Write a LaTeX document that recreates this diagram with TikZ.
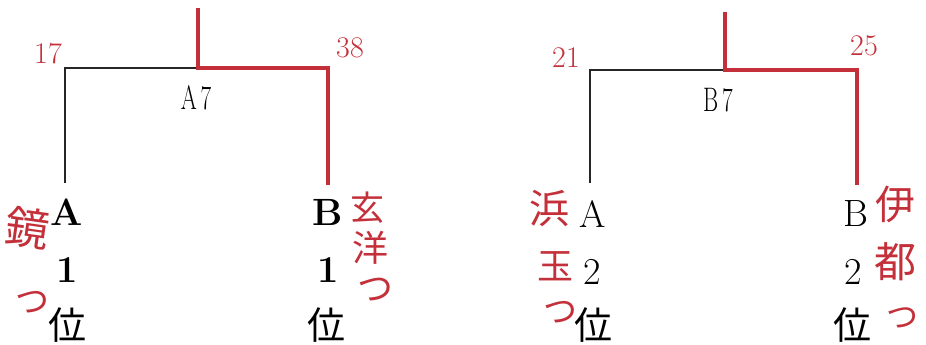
\documentclass[tikz,border=0pt]{standalone}
\usepackage{fontspec}
\newfontfamily\cjk{Noto Sans CJK JP}
\definecolor{pen}{RGB}{196,48,58}
\begin{document}
\begin{tikzpicture}[x=1pt,y=-1pt,
  wire/.style={line width=1.6pt, black!85},
  win/.style={line width=4.5pt, pen, line cap=rect},
  boldlab/.style={font=\fontsize{38}{38}\selectfont\bfseries, inner sep=0},
  plainlab/.style={font=\fontsize{38}{38}\selectfont, inner sep=0},
  ilab/.style={font=\cjk\fontsize{38}{38}\selectfont, inner sep=0},
  gamelab/.style={font=\fontsize{34}{34}\selectfont, inner sep=0, xscale=0.68, transform shape},
  hand/.style={text=pen, inner sep=0},
  handnum/.style={font=\fontsize{30}{30}\selectfont, text=pen, inner sep=0},
]
\useasboundingbox (0,0) rectangle (926,345);

% ---------- left bracket ----------
\coordinate (la) at (65,183);
\coordinate (lat) at (65,68);
\coordinate (lm) at (198,68);
\coordinate (ltop) at (198,10);
\coordinate (lbt) at (328,68);
\coordinate (lb) at (328,183);
\draw[wire] (la) -- (lat) -- (lm);
\draw[win] (ltop) -- (lm) -- (lbt) -- (lb);
\node[gamelab] (a7) at (196,98) {A\,7};

\node[boldlab] (lA) at (67,212) {A};
\node[boldlab] (l1) at (67,270) {1};
\node[ilab] (li) at (67,325) {位};
\node[boldlab] (lB) at (328,212) {B};
\node[boldlab] (r1) at (328,270) {1};
\node[ilab] (ri) at (326,325) {位};

% handwritten (left)
\node[handnum] (n17) at (48,54) {17};
\node[handnum] (n38) at (350,48) {38};
\node[hand, font=\cjk\fontsize{44}{44}\selectfont, rotate=-8] (kg) at (28,228) {鏡};
\node[hand, font=\cjk\fontsize{34}{34}\selectfont] (kt) at (32,302) {つ};
\node[hand, font=\cjk\fontsize{34}{34}\selectfont] (g1) at (367,208) {玄};
\node[hand, font=\cjk\fontsize{36}{36}\selectfont] (g2) at (370,248) {洋};
\node[hand, font=\cjk\fontsize{36}{36}\selectfont] (g3) at (375,290) {つ};

% ---------- right bracket ----------
\coordinate (ra) at (590,183);
\coordinate (rat) at (590,70);
\coordinate (rm) at (725,70);
\coordinate (rtop) at (725,14);
\coordinate (rbt) at (857,70);
\coordinate (rb) at (857,183);
\draw[wire] (ra) -- (rat) -- (rm);
\draw[win] (rtop) -- (rm) -- (rbt) -- (rb);
\node[gamelab] (b7) at (718,100) {B\,7};

\node[plainlab] (rA) at (593,214) {A};
\node[plainlab] (r2a) at (592,272) {2};
\node[ilab] (rli) at (593,325) {位};
\node[plainlab] (rB) at (856,214) {B};
\node[plainlab] (r2b) at (853,272) {2};
\node[ilab] (rri) at (852,325) {位};

% handwritten (right)
\node[handnum] (n21) at (566,58) {21};
\node[handnum] (n25) at (864,46) {25};
\node[hand, font=\cjk\fontsize{40}{40}\selectfont] (h1) at (549,208) {浜};
\node[hand, font=\cjk\fontsize{36}{36}\selectfont] (h2) at (555,266) {玉};
\node[hand, font=\cjk\fontsize{34}{34}\selectfont] (h3) at (560,312) {つ};
\node[hand, font=\cjk\fontsize{40}{40}\selectfont] (i1) at (895,204) {伊};
\node[hand, font=\cjk\fontsize{42}{42}\selectfont] (i2) at (895,262) {都};
\node[hand, font=\cjk\fontsize{32}{32}\selectfont] (i3) at (902,318) {つ};
\end{tikzpicture}
\end{document}
